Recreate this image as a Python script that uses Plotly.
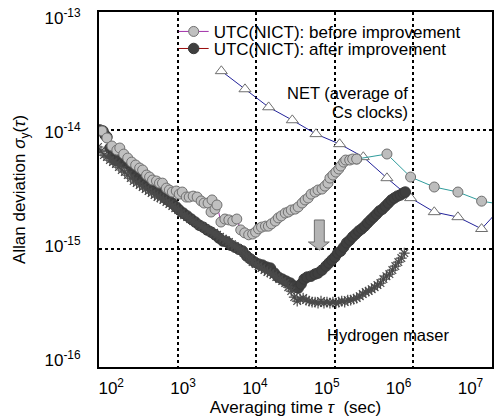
import numpy as np
import plotly.graph_objects as go

# ---------------- data ----------------
# UTC(NICT) before improvement (dense part)
tau_before = [109.2, 126.2, 146.1, 168.9, 184, 206.7, 232.2, 260.7, 292.9, 329,
              359, 403, 440, 480, 539, 588, 642, 721, 785, 857,
              962, 1050, 1146, 1287, 1405, 1578, 1773, 1993, 2174, 2442,
              2742, 2664, 2992, 3171, 3561, 4000, 4490, 5044, 5665, 6359,
              7143, 8020, 9009, 9829, 10700, 11675, 13114, 14300, 15603, 17526,
              19100, 20840, 23409, 25600, 27932, 31375, 34200, 38417, 41916, 45800,
              49972, 56132, 61200, 68746, 75007, 81800, 86700, 94594, 103215, 112216,
              118930, 129765, 137536, 154745, 168834, 189654]
sigma_before_e15 = [9.88, 8.62, 7.37, 6.81, 7.09, 6.30, 5.83, 5.39, 5.09, 4.80,
                    4.62, 4.19, 4.03, 3.80, 3.73, 3.58, 3.58, 3.25, 3.13, 3.01,
                    3.07, 2.89, 3.01, 2.73, 2.73, 2.78, 2.73, 2.53, 2.43, 2.43,
                    2.58, 2.04, 2.16, 2.34, 1.68, 1.78, 1.75, 1.71, 1.78, 1.44,
                    1.36, 1.31, 1.33, 1.38, 1.47, 1.52, 1.55, 1.55, 1.62, 1.71,
                    1.82, 1.89, 2.00, 2.04, 2.12, 2.16, 2.25, 2.43, 2.58, 2.68,
                    2.89, 3.01, 3.13, 3.19, 3.38, 3.58, 3.95, 4.19, 4.44, 4.71,
                    4.99, 5.39, 5.61, 5.61, 5.72, 5.72]

# UTC(NICT) before improvement, long-term part (teal line)
tau_before_long = [189654, 460800, 921600, 1843200, 3686400, 7372800, 14745600]
sigma_before_long_e15 = [5.72, 6.31, 4.03, 3.32, 3.01, 2.52, 2.34]

# UTC(NICT) after improvement
tau_after = [103, 112.4, 119.1, 126.2, 137.8, 150.4, 159.4, 168.9, 184, 200.8,
             225.5, 246, 268.4, 301.5, 329, 359, 403, 440, 480, 539,
             588, 642, 721, 785, 857, 962, 1050, 1179, 1325, 1489,
             1673, 1880, 2112, 2372, 2664, 2992, 3360, 3774, 4240, 4759,
             5345, 6000, 6740, 7571, 8500, 9548, 10700, 12019, 13501, 15157,
             17024, 19100, 21455, 24100, 27133, 30477, 34200, 37316, 40715, 44426,
             49972, 56132, 61200, 68746, 77222, 84213, 91886, 100254, 109000, 118930,
             129765, 141591, 154745, 168834, 184223, 201782, 220167, 240218, 262000, 285868,
             311911, 340338, 369905, 403584, 440368, 480777, 524581, 572355, 625000, 681938,
             744063, 788625]
sigma_after_e15 = [10.07, 9.88, 9.14, 8.79, 7.09, 6.18, 5.61, 5.61, 5.94, 5.39,
                   5.29, 5.09, 4.62, 4.11, 3.95, 3.80, 3.58, 3.38, 3.25, 3.13,
                   3.07, 2.84, 2.63, 2.53, 2.43, 2.25, 2.12, 2.00, 1.89, 1.78,
                   1.68, 1.58, 1.52, 1.44, 1.38, 1.31, 1.23, 1.16, 1.14, 1.07,
                   1.03, 0.99, 0.954, 0.866, 0.816, 0.770, 0.741, 0.726, 0.699, 0.685,
                   0.622, 0.575, 0.553, 0.532, 0.512, 0.483, 0.464, 0.502, 0.553, 0.575,
                   0.586, 0.610, 0.622, 0.659, 0.712, 0.755, 0.801, 0.849, 0.918, 0.954,
                   1.03, 1.12, 1.18, 1.26, 1.33, 1.41, 1.47, 1.55, 1.65, 1.75,
                   1.85, 1.96, 2.08, 2.16, 2.29, 2.43, 2.58, 2.68, 2.78, 2.84,
                   2.95, 3.01]

# Hydrogen maser
tau_maser = [97.1, 106.0, 115.7, 126.2, 137.8, 150.4, 164.1, 179.0, 195.0, 212.8,
             232.2, 253.3, 276.3, 301.5, 329, 359, 391.7, 427.4, 466.4, 508.8,
             555.2, 605.3, 660.5, 721, 785, 857, 934.5, 1020, 1113, 1214,
             1325, 1446, 1578, 1722, 1880, 2051, 2238, 2442, 2664, 2906,
             3171, 3459, 3774, 4118, 4490, 4899, 5345, 5833, 6359, 6938,
             7571, 8257, 9009, 9829, 10700, 11675, 12738, 13899, 15157, 16537,
             18044, 19663, 21455, 23409, 25600, 27932, 30477, 33254, 36249, 39549,
             43154, 47151, 51447, 56132, 61200, 66775, 72859, 79499, 86700, 94594,
             103215, 112216, 122440, 133590, 146000, 159301, 173813, 189654, 207740, 226654,
             247313, 269729, 294305, 321107, 349000, 380794, 415485, 453351, 494973, 540039,
             589261, 643438, 702063, 766000]
sigma_maser_e15 = [7.23, 6.68, 6.18, 5.94, 5.61, 5.39, 5.19, 4.89, 4.62, 4.44,
                   4.19, 3.95, 3.73, 3.58, 3.45, 3.32, 3.19, 3.07, 2.95, 2.84,
                   2.73, 2.68, 2.58, 2.48, 2.38, 2.29, 2.20, 2.12, 2.00, 1.92,
                   1.85, 1.78, 1.71, 1.65, 1.58, 1.55, 1.49, 1.44, 1.38, 1.36,
                   1.31, 1.26, 1.21, 1.18, 1.14, 1.09, 1.05, 1.01, 0.973, 0.918,
                   0.866, 0.816, 0.770, 0.741, 0.712, 0.685, 0.659, 0.634, 0.622, 0.598,
                   0.575, 0.553, 0.532, 0.512, 0.473, 0.438, 0.390, 0.361, 0.375, 0.382,
                   0.368, 0.361, 0.354, 0.354, 0.347, 0.361, 0.347, 0.354, 0.347, 0.354,
                   0.347, 0.354, 0.361, 0.354, 0.368, 0.368, 0.375, 0.382, 0.397, 0.413,
                   0.430, 0.438, 0.455, 0.473, 0.492, 0.512, 0.553, 0.586, 0.610, 0.659,
                   0.712, 0.770, 0.832, 0.918]

# NET (average of Cs clocks)
tau_net = [3600, 7200, 14400, 28800, 57600, 115200, 230400, 460800, 921600,
           1843200, 3686400, 7372800, 14745600]
sigma_net_e15 = [31.7, 22.3, 15.7, 12.2, 9.31, 7.66, 5.95, 3.95, 2.68,
                 2.04, 1.85, 1.47, 2.43]

x_tick_vals = [1e2, 1e3, 1e4, 1e5, 1e6, 1e7]
x_tick_text = ["10<sup>2</sup>", "10<sup>3</sup>", "10<sup>4</sup>",
               "10<sup>5</sup>", "10<sup>6</sup>", "10<sup>7</sup>"]
y_tick_vals = [1e-16, 1e-15, 1e-14, 1e-13]
y_tick_text = ["10<sup>-16</sup>", "10<sup>-15</sup>", "10<sup>-14</sup>", "10<sup>-13</sup>"]

for a, b in [(tau_before, sigma_before_e15), (tau_after, sigma_after_e15),
             (tau_maser, sigma_maser_e15), (tau_net, sigma_net_e15),
             (tau_before_long, sigma_before_long_e15)]:
    assert len(a) == len(b), (len(a), len(b))

E15 = 1e-15
FONT = "Liberation Sans, Arial, sans-serif"

fig = go.Figure()

# NET
fig.add_trace(go.Scatter(
    x=tau_net, y=np.array(sigma_net_e15) * E15, mode="lines+markers",
    line=dict(color="#22229a", width=1),
    marker=dict(symbol="triangle-up", size=10.5, color="white",
                line=dict(color="#6e6e6e", width=1)),
    showlegend=False, name="NET"))

# before, long-term tail
fig.add_trace(go.Scatter(
    x=tau_before_long, y=np.array(sigma_before_long_e15) * E15, mode="lines+markers",
    line=dict(color="#2f9c9c", width=1),
    marker=dict(symbol="circle", size=10, color="#bdbdbd",
                line=dict(color="#6e6e6e", width=1)),
    showlegend=False, name="before (long)"))

# after improvement
fig.add_trace(go.Scatter(
    x=tau_after, y=np.array(sigma_after_e15) * E15, mode="lines+markers",
    line=dict(color="#9a0a0a", width=1),
    marker=dict(symbol="circle", size=10.5, color="#3f3f3f",
                line=dict(color="#3a3a3a", width=1)),
    name="UTC(NICT): after improvement", legend="legend2"))

# Hydrogen maser
fig.add_trace(go.Scatter(
    x=tau_maser, y=np.array(sigma_maser_e15) * E15, mode="markers",
    marker=dict(symbol="asterisk-open", size=9, color="#4a4a4a",
                line=dict(color="#4a4a4a", width=1.2)),
    showlegend=False, name="Hydrogen maser"))

# before improvement
fig.add_trace(go.Scatter(
    x=tau_before, y=np.array(sigma_before_e15) * E15, mode="lines+markers",
    line=dict(color="#a030a8", width=1),
    marker=dict(symbol="circle", size=10, color="#c0c0c0",
                line=dict(color="#707070", width=1)),
    name="UTC(NICT): before improvement", legend="legend"))

# helper trace for the label axes
fig.add_trace(go.Scatter(x=[], y=[], xaxis="x2", yaxis="y2",
                         showlegend=False, hoverinfo="skip"))

tick_font = dict(family=FONT, size=17, color="black")

fig.update_layout(
    width=495, height=418,
    margin=dict(l=99, r=1, t=12, b=51),
    paper_bgcolor="white", plot_bgcolor="white",
    font=dict(family=FONT, size=17, color="black"),
    xaxis=dict(type="log", range=[2, 7], showticklabels=False, ticks="",
               tickvals=x_tick_vals,
               showgrid=True, gridcolor="black", gridwidth=2, griddash="dot",
               showline=True, linecolor="black", linewidth=1.5, mirror=True,
               zeroline=False),
    yaxis=dict(type="log", range=[-16, -13], showticklabels=False, ticks="",
               tickvals=y_tick_vals,
               showgrid=True, gridcolor="black", gridwidth=2, griddash="dot",
               showline=True, linecolor="black", linewidth=1.5, mirror=True,
               zeroline=False),
    xaxis2=dict(type="log", range=[1.830, 7.300], overlaying="x", anchor="y",
                side="bottom", tickvals=x_tick_vals, ticktext=x_tick_text,
                tickfont=tick_font, showgrid=False, showline=False,
                ticks="outside", ticklen=0, ticklabelstandoff=6,
                ticklabeloverflow="allow", zeroline=False,
                title=dict(text="Averaging time <i>τ</i>  (sec)",
                           font=dict(family=FONT, size=17), standoff=0)),
    yaxis2=dict(type="log", range=[-16.061, -12.944], overlaying="y", anchor="x",
                side="left", tickvals=y_tick_vals, ticktext=y_tick_text,
                tickfont=tick_font, showgrid=False, showline=False,
                ticks="outside", ticklen=0, ticklabelstandoff=14,
                ticklabeloverflow="allow", zeroline=False,
                title=dict(text="Allan deviation <i>σ</i><sub>y</sub>(<i>τ</i>)",
                           font=dict(family=FONT, size=17), standoff=14)),
    legend=dict(x=0.190, y=0.944, xanchor="left", yanchor="middle",
                bgcolor="rgba(0,0,0,0)", borderwidth=0,
                font=dict(family=FONT, size=17, color="black")),
    legend2=dict(x=0.190, y=0.896, xanchor="left", yanchor="middle",
                 bgcolor="rgba(0,0,0,0)", borderwidth=0,
                 font=dict(family=FONT, size=17, color="black")),
    annotations=[
        dict(text="NET (average of", xref="paper", yref="paper", x=0.792, y=0.772,
             xanchor="right", yanchor="middle", showarrow=False,
             font=dict(family=FONT, size=16.5, color="black")),
        dict(text="Cs clocks)", xref="paper", yref="paper", x=0.792, y=0.718,
             xanchor="right", yanchor="middle", showarrow=False,
             font=dict(family=FONT, size=16.5, color="black")),
        dict(text="Hydrogen maser", xref="paper", yref="paper", x=0.574, y=0.090,
             xanchor="left", yanchor="middle", showarrow=False,
             font=dict(family=FONT, size=16.5, color="black")),
    ],
    shapes=[
        dict(type="path", xref="paper", yref="paper",
             path="M 0.5480 0.4141 L 0.5732 0.4141 L 0.5732 0.3521 L 0.5859 0.3521 "
                  "L 0.5606 0.3296 L 0.5328 0.3521 L 0.5480 0.3521 Z",
             fillcolor="#b4b4b4", line=dict(color="#6e6e6e", width=1)),
    ],
)

fig.write_html("out.html", config={"displayModeBar": False},
               post_script="document.body.style.margin='0px';document.body.style.overflow='hidden';")
